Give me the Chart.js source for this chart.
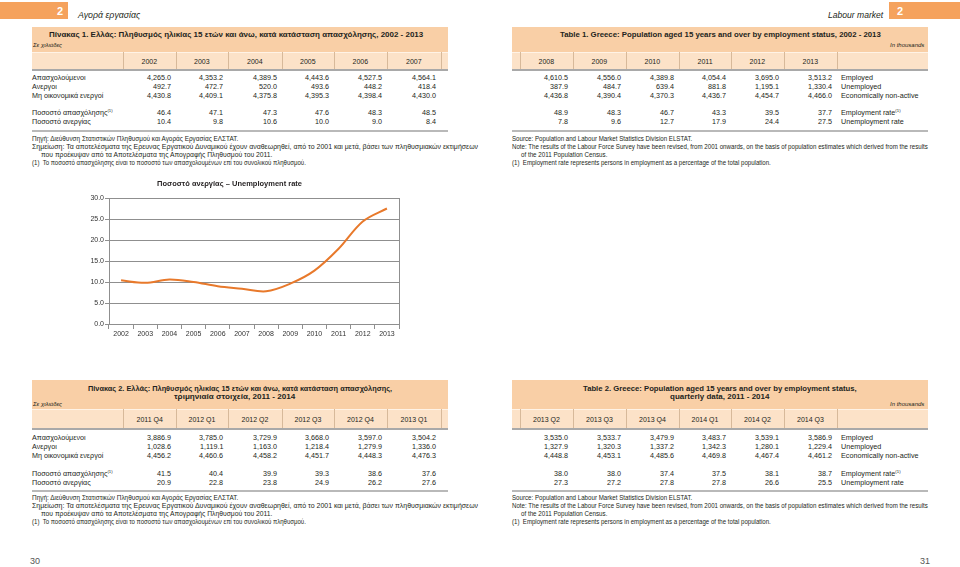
<!DOCTYPE html>
<html><head><meta charset="utf-8">
<script src="https://cdn.jsdelivr.net/npm/chart.js@4.4.0/dist/chart.umd.min.js"></script>
<style>
html,body{margin:0;padding:0}
body{width:960px;height:567px;background:#fff;position:relative;overflow:hidden;font-family:"Liberation Sans",Arial,sans-serif;color:#231f20}
.t{position:absolute;white-space:nowrap;line-height:1}
.r{position:absolute}
sup{font-size:60%;vertical-align:super;line-height:0}
#chartBox{position:absolute;left:60px;top:175px;width:360px;height:170px}
</style></head>
<body>
<div id="chartBox"><canvas id="c" width="360" height="170"></canvas></div>
<script>
// ---------- data ----------
const years = ['2002','2003','2004','2005','2006','2007','2008','2009','2010','2011','2012','2013'];
const employed   = [4265.0,4353.2,4389.5,4443.6,4527.5,4564.1,4610.5,4556.0,4389.8,4054.4,3695.0,3513.2];
const unemployed = [492.7,472.7,520.0,493.6,448.2,418.4,387.9,484.7,639.4,881.8,1195.1,1330.4];
const nonActive  = [4430.8,4409.1,4375.8,4395.3,4398.4,4430.0,4436.8,4390.4,4370.3,4436.7,4454.7,4466.0];
const empRate    = [46.4,47.1,47.3,47.6,48.3,48.5,48.9,48.3,46.7,43.3,39.5,37.7];
const unempRate  = [10.4,9.8,10.6,10.0,9.0,8.4,7.8,9.6,12.7,17.9,24.4,27.5];

const quarters = ['2011 Q4','2012 Q1','2012 Q2','2012 Q3','2012 Q4','2013 Q1','2013 Q2','2013 Q3','2013 Q4','2014 Q1','2014 Q2','2014 Q3'];
const qEmployed   = [3886.9,3785.0,3729.9,3668.0,3597.0,3504.2,3535.0,3533.7,3479.9,3483.7,3539.1,3586.9];
const qUnemployed = [1028.6,1119.1,1163.0,1218.4,1279.9,1336.0,1327.9,1320.3,1337.2,1342.3,1280.1,1229.4];
const qNonActive  = [4456.2,4460.6,4458.2,4451.7,4448.3,4476.3,4448.8,4453.1,4485.6,4469.8,4467.4,4461.2];
const qEmpRate    = [41.5,40.4,39.9,39.3,38.6,37.6,38.0,38.0,37.4,37.5,38.1,38.7];
const qUnempRate  = [20.9,22.8,23.8,24.9,26.2,27.6,27.3,27.2,27.8,27.8,26.6,25.5];

const yTicks = [0,5,10,15,20,25,30];

const rowLabelsGr = ['Απασχολούμενοι','Ανεργοι','Μη οικονομικά ενεργοί','Ποσοστό απασχόλησης<sup>(1)</sup>','Ποσοστό ανεργίας'];
const rowLabelsEn = ['Employed','Unemployed','Economically non-active','Employment rate<sup>(1)</sup>','Unemployment rate'];

// ---------- layout helpers ----------
const FONT = '"Liberation Sans", Arial, sans-serif';
function R(x,y,w,h,c){const d=document.createElement('div');d.className='r';Object.assign(d.style,{left:x+'px',top:y+'px',width:w+'px',height:h+'px',background:c});document.body.appendChild(d);return d;}
function T(x,y,txt,o={}){
  const d=document.createElement('div');d.className='t';d.innerHTML=txt;
  const s=d.style;s.fontSize=(o.size||7)+'px';
  if(o.bold)s.fontWeight='bold';if(o.italic)s.fontStyle='italic';if(o.color)s.color=o.color;if(o.family)s.fontFamily=o.family;
  s.top=y+'px';
  document.body.appendChild(d);
  let w=d.offsetWidth, sx=1;
  if(o.w){sx=o.w/w;}
  const ww=w*sx;
  let left=x;
  if(o.align==='right')left=x-ww;else if(o.align==='center')left=x-ww/2;
  s.left=left+'px';s.transformOrigin='0 50%';
  s.transform='translateY(-50%)'+(sx!==1?' scaleX('+sx+')':'');
  return d;
}
const fmt=v=>v.toLocaleString('en-US',{minimumFractionDigits:1,maximumFractionDigits:1});

// ---------- page furniture ----------
R(0,2,68,17,'#F5A25D'); T(57,11,'2',{size:11,bold:true,color:'#fff'});
T(78,14.5,'Αγορά εργασίας',{size:9.5,italic:true,w:62});
R(889,2,71,17,'#F5A25D'); T(897,11,'2',{size:11,bold:true,color:'#fff'});
T(883,14.5,'Labour market',{size:9.5,italic:true,align:'right',w:55});
T(30,561,'30',{size:9,family:'"Liberation Sans Narrow", Arial, sans-serif',color:'#555'});
T(930,561,'31',{size:9,family:'"Liberation Sans Narrow", Arial, sans-serif',color:'#555',align:'right'});

const sepL=[123,176,228,282,334,387,441], sepR=[520,573,626,679,731,784,837];
const HDR='#F9CFA6', COLH='#FCE2C8', SEP='#d7b99a', RULE='#b9b9b9';

function tableBlock(top,titleGr,titleEn,cols,rows,rowY,ruleY,footY){
  const hTop=top, hBot=cols.hBot, cBot=cols.cBot;
  R(32,hTop,416,hBot-hTop,HDR); R(512,hTop,416,hBot-hTop,HDR);
  R(32,hBot,416,cBot-hBot,COLH); R(512,hBot,416,cBot-hBot,COLH);
  R(32,hBot,416,1,'#fff3e6'); R(512,hBot,416,1,'#fff3e6');
  R(32,cBot,416,1.5,'#a9a9a9'); R(512,cBot,416,1.5,'#a9a9a9');
  sepL.forEach(x=>R(x,hBot,1,cBot-hBot,SEP)); sepR.forEach(x=>R(x,hBot,1,cBot-hBot,SEP));
  titleGr.forEach(l=>T(l.x,l.y,l.t,{size:7.5,bold:true,align:'center',w:l.w}));
  titleEn.forEach(l=>T(l.x,l.y,l.t,{size:7.5,bold:true,align:'center',w:l.w}));
  T(33,cols.unitY,'Σε χιλιάδες',{size:6,italic:true});
  T(924,cols.unitY,'In thousands',{size:6,italic:true,align:'right'});
  const hy=(hBot+cBot)/2+0.5;
  for(let i=0;i<6;i++){
    T((sepL[i]+sepL[i+1])/2,hy,cols.labels[i],{size:7,align:'center'});
    T((sepR[i]+sepR[i+1])/2,hy,cols.labels[i+6],{size:7,align:'center'});
  }
  rows.forEach((arr,ri)=>{
    const y=rowY[ri];
    T(32,y,rowLabelsGr[ri],{size:7.2});
    T(841,y,rowLabelsEn[ri],{size:7.2});
    for(let i=0;i<6;i++){
      T(sepL[i+1]-5,y,fmt(arr[i]),{size:7.2,align:'right'});
      T(sepR[i+1]-5,y,fmt(arr[i+6]),{size:7.2,align:'right'});
    }
  });
  R(32,ruleY,416,2,RULE); R(512,ruleY,416,2,RULE);
  const fg=['Πηγή: Διεύθυνση Στατιστικών Πληθυσμού και Αγοράς Εργασίας ΕΛΣΤΑΤ.',
    'Σημείωση: Τα αποτελέσματα της Ερευνας Εργατικού Δυναμικού έχουν αναθεωρηθεί, από το 2001 και μετά, βάσει των πληθυσμιακών εκτιμήσεων',
    'που προέκυψαν από τα Αποτελέσματα της Απογραφής Πληθυσμού του 2011.',
    '(1)&nbsp; Το ποσοστό απασχόλησης είναι το ποσοστό των απασχολουμένων επί του συνολικού πληθυσμού.'];
  const fgx=[32,32,41,32], fgw=[206,446,231,274];
  const fe=['Source: Population and Labour Market Statistics Division ELSTAT.',
    'Note: The results of the Labour Force Survey have been revised, from 2001 onwards, on the basis of population estimates which derived from the results',
    'of the 2011 Population Census.',
    '(1)&nbsp; Employment rate represents persons in employment as a percentage of the total population.'];
  const fex=[512,512,521,512], few=[180,416,86,259];
  footY.forEach((y,i)=>{T(fgx[i],y,fg[i],{size:6.3,w:fgw[i]});T(fex[i],y,fe[i],{size:6.3,w:few[i]});});
}

tableBlock(27,
  [{x:236,y:34.5,t:'Πίνακας 1. Ελλάς: Πληθυσμός ηλικίας 15 ετών και άνω, κατά κατάσταση απασχόλησης, 2002 - 2013',w:374}],
  [{x:720,y:34.5,t:'Table 1. Greece: Population aged 15 years and over by employment status, 2002 - 2013',w:321}],
  {hBot:52,cBot:69,unitY:45,labels:years},
  [employed,unemployed,nonActive,empRate,unempRate],
  [78,87,96,113,122],130,[139,147,155,163]);

tableBlock(380,
  [{x:240,y:388.5,t:'Πίνακας 2. Ελλάς: Πληθυσμός ηλικίας 15 ετών και άνω, κατά κατάσταση απασχόλησης,',w:304},
   {x:234.5,y:396.5,t:'τριμηνιαία στοιχεία, 2011 - 2014',w:121}],
  [{x:720,y:388.5,t:'Table 2. Greece: Population aged 15 years and over by employment status,',w:274},
   {x:719.5,y:396.5,t:'quarterly data, 2011 - 2014',w:99}],
  {hBot:409,cBot:428,unitY:404,labels:quarters},
  [qEmployed,qUnemployed,qNonActive,qEmpRate,qUnempRate],
  [437.5,446.5,455.5,473.5,482.5],490,[497.5,505.5,513.5,521.5]);

// ---------- chart ----------
const GRID='#8f8f8f';
new Chart(document.getElementById('c'),{
  type:'line',
  data:{labels:years,datasets:[{label:'Ποσοστό ανεργίας',data:unempRate,borderColor:'#E8792B',backgroundColor:'#E8792B',borderWidth:2,pointRadius:0,tension:0.35,fill:false}]},
  options:{
    responsive:false,animation:false,devicePixelRatio:1,
    layout:{padding:{top:0,right:21,bottom:0,left:0}},
    plugins:{
      legend:{display:false},tooltip:{enabled:false},
      title:{display:true,text:'Ποσοστό ανεργίας – Unemployment rate',color:'#231f20',font:{family:FONT,size:7.5,weight:'bold'},padding:{top:4,bottom:10}}
    },
    scales:{
      x:{offset:true,grid:{offset:true,drawOnChartArea:false,drawTicks:true,tickLength:5,color:GRID},border:{color:GRID,width:1},
         ticks:{font:{family:FONT,size:7},color:'#333',padding:1,maxRotation:0,autoSkip:false},
         afterFit:s=>{s.height=21;}},
      y:{min:0,max:30,afterBuildTicks:s=>{s.ticks=yTicks.map(v=>({value:v}));},
         ticks:{callback:v=>Number(v).toFixed(1),font:{family:FONT,size:7},color:'#333',padding:1},
         grid:{color:GRID,tickLength:4},border:{color:GRID,width:1},
         afterFit:s=>{s.width=49;}},
      y2:{position:'right',min:0,max:30,ticks:{display:false},grid:{display:false},border:{display:true,color:GRID,width:1},afterFit:s=>{s.width=0;}}
    }
  }
});
</script>
</body></html>
